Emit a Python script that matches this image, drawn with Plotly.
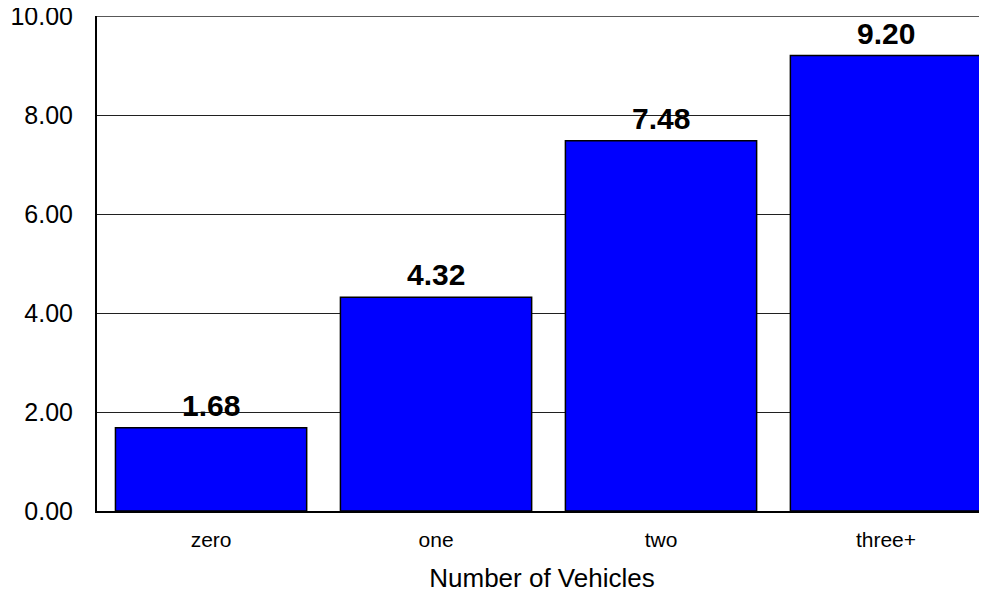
import plotly.graph_objects as go

categories = ["zero", "one", "two", "three+"]
values = [1.68, 4.32, 7.48, 9.20]
y_ticks = [0, 2, 4, 6, 8, 10]
y_tick_labels = ["0.00", "2.00", "4.00", "6.00", "8.00", "10.00"]
x_title = "Number of Vehicles"

FONT = "Liberation Sans, Arial, sans-serif"

fig = go.Figure()
fig.add_trace(go.Bar(
    x=categories, y=values,
    marker=dict(color="#0000FF", line=dict(color="black", width=1.5)),
    hoverinfo="skip",
))

for c, v in zip(categories, values):
    fig.add_annotation(
        x=c, y=v, text=f"<b>{v:.2f}</b>", showarrow=False,
        yanchor="bottom", yshift=4,
        font=dict(family=FONT, size=30, color="black"),
    )

# top border of plot area (the 10.00 gridline)
fig.add_shape(type="line", xref="paper", yref="y", x0=0, x1=1, y0=10, y1=10,
              line=dict(color="#202020", width=1.5), layer="below")

fig.update_layout(
    width=979, height=585,
    margin=dict(l=89, r=0, t=8, b=82, autoexpand=False),
    plot_bgcolor="white", paper_bgcolor="white",
    bargap=0.15,
    showlegend=False,
    font=dict(family=FONT, color="black"),
)
fig.update_xaxes(
    range=[-0.507, 3.449],
    showline=True, linecolor="black", linewidth=2,
    ticks="", showgrid=False,
    ticklabelstandoff=9,
    automargin=False,
    tickfont=dict(size=21),
    title=dict(text=x_title, font=dict(size=26), standoff=20),
)
fig.update_yaxes(
    range=[0, 10],
    tickvals=y_ticks, ticktext=y_tick_labels,
    showline=True, linecolor="black", linewidth=2,
    showgrid=True, gridcolor="#202020", gridwidth=1,
    zeroline=False,
    ticks="", ticklabelstandoff=17,
    ticklabeloverflow="allow",
    automargin=False,
    tickfont=dict(size=25),
)

post = (
    "document.querySelectorAll('svg.main-svg').forEach(function(s){s.style.overflow='visible';});"
)
fig.write_html("out.html", post_script=post)
